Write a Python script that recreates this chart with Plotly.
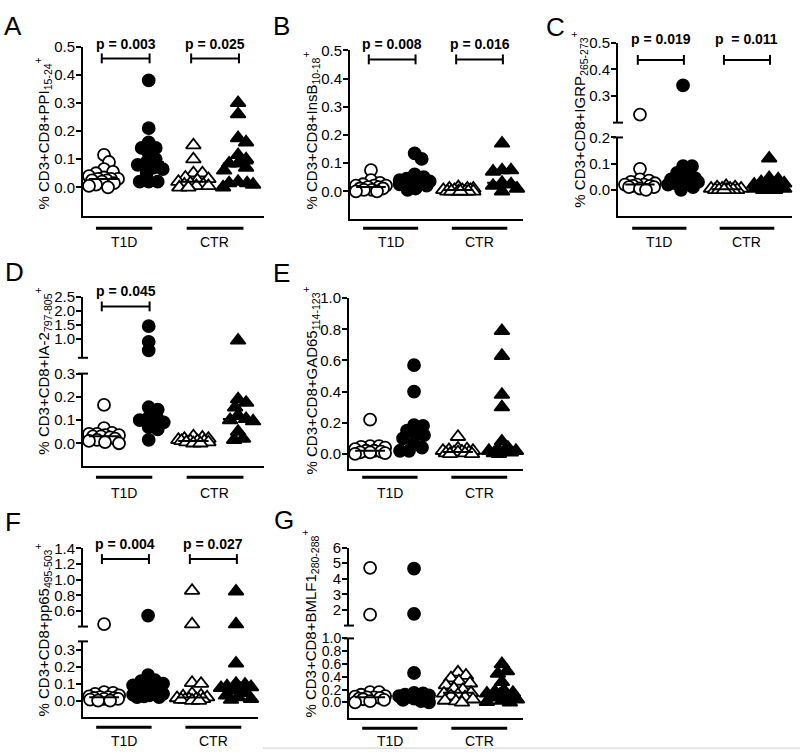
import math
import numpy as np
import plotly.graph_objects as go

W, H = 800, 755
FONT = "Liberation Sans, Arial, sans-serif"

GROUP_LABELS = ["T1D", "CTR"]

# ---------------- data (% of CD3+CD8+) -------------
# Each panel: T1D open circles, T1D filled circles, CTR open triangles, CTR filled triangles
ppi_t1d_open = [0.115, 0.09, 0.065, 0.055, 0.05, 0.04, 0.035, 0.03, 0.03, 0.03, 0.025, 0.025, 0.02, 0.015, 0.01, 0.005, 0.0]
ppi_t1d_fill = [0.38, 0.21, 0.16, 0.14, 0.14, 0.12, 0.10, 0.09, 0.08, 0.07, 0.065, 0.05, 0.02, 0.02, 0.02]
ppi_ctr_open = [0.15, 0.10, 0.05, 0.05, 0.035, 0.03, 0.025, 0.02, 0.015, 0.01, 0.01, 0.005, 0.005, 0.0, 0.0]
ppi_ctr_fill = [0.30, 0.26, 0.175, 0.16, 0.115, 0.10, 0.085, 0.085, 0.07, 0.06, 0.02, 0.015, 0.015, 0.01, 0.0]

insb_t1d_open = [0.075, 0.04, 0.03, 0.025, 0.02, 0.02, 0.02, 0.015, 0.015, 0.01, 0.01, 0.005, 0.005, 0.0, 0.0]
insb_t1d_fill = [0.135, 0.115, 0.06, 0.05, 0.045, 0.04, 0.035, 0.035, 0.03, 0.03, 0.03, 0.025, 0.02, 0.01, 0.005]
insb_ctr_open = [0.015, 0.01, 0.01, 0.01, 0.005, 0.005, 0.005, 0.005, 0.0, 0.0, 0.0, 0.0, 0.0, 0.0, 0.0]
insb_ctr_fill = [0.17, 0.075, 0.075, 0.07, 0.03, 0.025, 0.02, 0.01, 0.0]

igrp_t1d_open = [0.23, 0.08, 0.04, 0.035, 0.03, 0.025, 0.02, 0.02, 0.02, 0.015, 0.015, 0.01, 0.01, 0.005, 0.0]
igrp_t1d_fill = [0.34, 0.09, 0.09, 0.065, 0.055, 0.045, 0.04, 0.04, 0.035, 0.03, 0.03, 0.025, 0.02, 0.01, 0.0]
igrp_ctr_open = [0.015, 0.01, 0.01, 0.005, 0.005, 0.005, 0.005, 0.0, 0.0, 0.0, 0.0, 0.0, 0.0, 0.0]
igrp_ctr_fill = [0.12, 0.045, 0.04, 0.03, 0.025, 0.02, 0.015, 0.015, 0.01, 0.01, 0.005, 0.005, 0.0, 0.0, 0.0]

ia2_t1d_open = [0.165, 0.065, 0.045, 0.04, 0.04, 0.035, 0.035, 0.03, 0.03, 0.025, 0.02, 0.015, 0.01, 0.005, 0.0]
ia2_t1d_fill = [1.45, 0.88, 0.57, 0.155, 0.145, 0.11, 0.105, 0.10, 0.09, 0.07, 0.06, 0.015]
ia2_ctr_open = [0.03, 0.025, 0.02, 0.02, 0.015, 0.01, 0.01, 0.01, 0.01, 0.005, 0.005, 0.0, 0.0]
ia2_ctr_fill = [0.93, 0.19, 0.175, 0.155, 0.12, 0.105, 0.10, 0.095, 0.05, 0.02, 0.015]

gad_t1d_open = [0.22, 0.05, 0.05, 0.045, 0.04, 0.03, 0.02, 0.02, 0.015, 0.01, 0.01, 0.005, 0.0]
gad_t1d_fill = [0.57, 0.40, 0.185, 0.18, 0.15, 0.13, 0.12, 0.10, 0.065, 0.04, 0.02, 0.02]
gad_ctr_open = [0.11, 0.035, 0.03, 0.025, 0.02, 0.02, 0.015, 0.01, 0.01, 0.01, 0.005, 0.005, 0.0, 0.0]
gad_ctr_fill = [0.79, 0.63, 0.38, 0.30, 0.08, 0.04, 0.03, 0.02, 0.02, 0.015, 0.01, 0.005, 0.0]

pp65_t1d_open = [0.43, 0.05, 0.045, 0.04, 0.03, 0.025, 0.02, 0.02, 0.015, 0.015, 0.01, 0.01, 0.005, 0.0, 0.0]
pp65_t1d_fill = [0.54, 0.15, 0.12, 0.115, 0.10, 0.09, 0.07, 0.045, 0.045, 0.04, 0.035, 0.03, 0.025, 0.02, 0.02]
pp65_ctr_open = [0.86, 0.43, 0.105, 0.10, 0.04, 0.03, 0.025, 0.02, 0.015, 0.01, 0.01, 0.01, 0.005, 0.005, 0.0, 0.0]
pp65_ctr_fill = [0.85, 0.43, 0.22, 0.10, 0.095, 0.085, 0.08, 0.075, 0.07, 0.06, 0.045, 0.03, 0.02, 0.01, 0.005]

bmlf_t1d_open = [4.7, 1.7, 0.16, 0.16, 0.12, 0.10, 0.09, 0.08, 0.08, 0.07, 0.06, 0.05, 0.04, 0.02, 0.0]
bmlf_t1d_fill = [4.65, 1.75, 0.46, 0.15, 0.14, 0.12, 0.11, 0.10, 0.10, 0.09, 0.08, 0.06, 0.04, 0.02, 0.0]
bmlf_ctr_open = [0.47, 0.42, 0.38, 0.33, 0.30, 0.27, 0.22, 0.20, 0.15, 0.14, 0.12, 0.10, 0.08, 0.05, 0.03, 0.02, 0.0]
bmlf_ctr_fill = [0.60, 0.49, 0.45, 0.32, 0.19, 0.17, 0.15, 0.14, 0.12, 0.10, 0.08, 0.05, 0.03, 0.01, 0.0]

# ---------------- panel layout (pixel geometry) ----------------
def seg(lo, hi, bot, top, ticks, fmt="{:.1f}", fs=15):
    return dict(lo=lo, hi=hi, bot=bot, top=top, ticks=ticks, fmt=fmt, fs=fs)

panels = [
    dict(letter="A", lpos=(13, 17), xl=83, xr=264, xr_range=[0.53, 4.58],
         title="% CD3+CD8+PPI<sub>15-24</sub><sup>+</sup>", tpos=(43, 126),
         segs=[seg(-0.1, 0.5, 209, 38, [0, 0.1, 0.2, 0.3, 0.4, 0.5])],
         data=[ppi_t1d_open, ppi_t1d_fill, ppi_ctr_open, ppi_ctr_fill],
         pvals=[(1, 2, "p = 0.003"), (3, 4, "p = 0.025")], bry=50, pty=35,
         uly=222, laby=236),
    dict(letter="B", lpos=(281, 17), xl=350, xr=523, xr_range=[0.52, 4.48],
         title="% CD3+CD8+InsB<sub>10-18</sub><sup>+</sup>", tpos=(311, 123),
         segs=[seg(-0.1, 0.5, 213, 42, [0, 0.1, 0.2, 0.3, 0.4, 0.5])],
         data=[insb_t1d_open, insb_t1d_fill, insb_ctr_open, insb_ctr_fill],
         pvals=[(1, 2, "p = 0.008"), (3, 4, "p = 0.016")], bry=51, pty=35,
         uly=222, laby=236),
    dict(letter="C", lpos=(555, 18), xl=618, xr=792, xr_range=[0.49, 4.53],
         title="% CD3+CD8+IGRP<sub>265-273</sub><sup>+</sup>", tpos=(579, 112),
         segs=[seg(-0.1, 0.2, 209.5, 130, [0, 0.1, 0.2]),
               seg(0.2, 0.5, 115, 34, [0.3, 0.4, 0.5])],
         data=[igrp_t1d_open, igrp_t1d_fill, igrp_ctr_open, igrp_ctr_fill],
         pvals=[(1, 2, "p = 0.019"), (3, 4, "p  = 0.011")], bry=51.5, pty=30,
         uly=222, laby=236),
    dict(letter="D", lpos=(14, 266), xl=83, xr=264, xr_range=[0.53, 4.58],
         title="% CD3+CD8+IA-2<sub>797-805</sub><sup>+</sup>", tpos=(43, 367),
         segs=[seg(-0.1, 0.3, 463, 369, [0, 0.1, 0.2, 0.3]),
               seg(0.3, 2.5, 353, 291.7, [1.0, 1.5, 2.0, 2.5])],
         data=[ia2_t1d_open, ia2_t1d_fill, ia2_ctr_open, ia2_ctr_fill],
         pvals=[(1, 2, "p = 0.045")], bry=301, pty=285,
         uly=474, laby=490),
    dict(letter="E", lpos=(281, 267), xl=349, xr=523, xr_range=[0.52, 4.48],
         title="% CD3+CD8+GAD65<sub>114-123</sub><sup>+</sup>", tpos=(311, 376),
         segs=[seg(-0.1, 1.0, 466, 292.7, [0, 0.2, 0.4, 0.6, 0.8, 1.0])],
         data=[gad_t1d_open, gad_t1d_fill, gad_ctr_open, gad_ctr_fill],
         pvals=[], bry=0, pty=0, uly=474, laby=490),
    dict(letter="F", lpos=(13, 519), xl=83, xr=258, xr_range=[0.52, 4.5],
         title="% CD3+CD8+pp65<sub>495-503</sub><sup>+</sup>", tpos=(43, 629),
         segs=[seg(-0.1, 0.35, 717, 640, [0, 0.1, 0.2, 0.3]),
               seg(0.4, 1.4, 625, 546, [0.6, 0.8, 1.0, 1.2, 1.4])],
         data=[pp65_t1d_open, pp65_t1d_fill, pp65_ctr_open, pp65_ctr_fill],
         pvals=[(1, 2, "p = 0.004"), (3, 4, "p = 0.027")], bry=556.7, pty=541.7,
         uly=727, laby=741),
    dict(letter="G", lpos=(284, 517), xl=349, xr=523, xr_range=[0.52, 4.48],
         title="% CD3+CD8+BMLF1<sub>280-288</sub><sup>+</sup>", tpos=(310, 622),
         segs=[seg(-0.25, 1.0, 718, 637, [0, 0.2, 0.4, 0.6, 0.8, 1.0], fs=14),
               seg(1, 6, 624, 545, [2, 3, 4, 5, 6], "{:d}")],
         data=[bmlf_t1d_open, bmlf_t1d_fill, bmlf_ctr_open, bmlf_ctr_fill],
         pvals=[], bry=0, pty=0, uly=728, laby=741),
]

STYLES = [
    dict(symbol="circle", color="white", size=12),
    dict(symbol="circle", color="black", size=12),
    dict(symbol="triangle-up", color="white", size=13),
    dict(symbol="triangle-up", color="black", size=13),
]


def xp(px):
    return px / W


def yp(px):
    return 1 - px / H


def swarm(ys, d=8.5, maxw=15):
    n = len(ys)
    offs = [0.0] * n
    placed = []
    order = sorted(range(n), key=lambda i: ys[i])
    cands = [0]
    for k in range(1, maxw + 1):
        cands += [k, -k]
    for i in order:
        best, fb, fbd = None, 0, -1
        for s in cands:
            md = min((math.hypot(s - px, ys[i] - py) for px, py in placed), default=1e9)
            if md >= d:
                best = s
                break
            if md > fbd:
                fbd, fb = md, s
        offs[i] = best if best is not None else fb
        placed.append((offs[i], ys[i]))
    return offs


fig = go.Figure()
layout = dict(width=W, height=H, margin=dict(l=0, r=0, t=0, b=0),
              paper_bgcolor="white", plot_bgcolor="white", showlegend=False,
              font=dict(family=FONT, color="black"))
annotations = []
shapes = []

ycount = 0
for k, p in enumerate(panels, start=1):
    xname = "xaxis" if k == 1 else f"xaxis{k}"
    xref = "x" if k == 1 else f"x{k}"
    yrefs = []
    for s in p["segs"]:
        ycount += 1
        yname = "yaxis" if ycount == 1 else f"yaxis{ycount}"
        yref = "y" if ycount == 1 else f"y{ycount}"
        yrefs.append(yref)
        layout[yname] = dict(
            domain=[yp(s["bot"]), yp(s["top"])], range=[s["lo"], s["hi"]],
            anchor=xref, showline=True, linewidth=2, linecolor="black",
            ticks="outside", ticklen=5, tickwidth=2, tickcolor="black",
            ticklabelstandoff=-2,
            tickvals=s["ticks"], ticktext=[s["fmt"].format(t) for t in s["ticks"]],
            tickfont=dict(size=s["fs"], family=FONT, color="black"),
            showgrid=False, zeroline=False, fixedrange=True)
    layout[xname] = dict(
        domain=[xp(p["xl"]), xp(p["xr"])], range=p["xr_range"], anchor=yrefs[0],
        showline=True, linewidth=2, linecolor="black", ticks="",
        showticklabels=False, showgrid=False, zeroline=False, fixedrange=True)

    pxu = (p["xr"] - p["xl"]) / (p["xr_range"][1] - p["xr_range"][0])
    segs = p["segs"]

    def seg_of(v):
        if len(segs) > 1 and v > segs[0]["hi"]:
            return 1
        return 0

    def to_px(v):
        s = segs[seg_of(v)]
        return s["bot"] - (v - s["lo"]) / (s["hi"] - s["lo"]) * (s["bot"] - s["top"])

    for g, vals in enumerate(p["data"]):
        cat = g + 1
        ypx = [to_px(v) for v in vals]
        offs = swarm(ypx)
        st = STYLES[g]
        for si in range(len(segs)):
            xs = [cat + o / pxu for v, o in zip(vals, offs) if seg_of(v) == si]
            ys = [v for v in vals if seg_of(v) == si]
            if not xs:
                continue
            fig.add_trace(go.Scatter(
                x=xs, y=ys, xaxis=xref, yaxis=yrefs[si], mode="markers",
                cliponaxis=False,
                marker=dict(symbol=st["symbol"], size=st["size"], color=st["color"],
                            line=dict(color="black", width=1.8)),
                hoverinfo="skip"))
        med = float(np.median(vals))
        fig.add_trace(go.Scatter(
            x=[cat - 0.34, cat + 0.34], y=[med, med], xaxis=xref,
            yaxis=yrefs[seg_of(med)], mode="lines", cliponaxis=False,
            line=dict(color="black", width=2), hoverinfo="skip"))

    # break marks for split axes
    if len(segs) > 1:
        for ypx in (segs[0]["top"], segs[1]["bot"]):
            shapes.append(dict(type="line", xref="paper", yref="paper",
                               x0=xp(p["xl"] - 5), x1=xp(p["xl"] + 5),
                               y0=yp(ypx), y1=yp(ypx),
                               line=dict(color="black", width=2)))

    # significance brackets
    for a, b, txt in p["pvals"]:
        x0, x1 = a - 0.05, b + 0.02
        shapes.append(dict(type="line", xref=xref, yref="paper", x0=x0, x1=x1,
                           y0=yp(p["bry"]), y1=yp(p["bry"]), line=dict(color="black", width=2)))
        for xx in (x0, x1):
            shapes.append(dict(type="line", xref=xref, yref="paper", x0=xx, x1=xx,
                               y0=yp(p["bry"] - 5), y1=yp(p["bry"] + 5),
                               line=dict(color="black", width=2)))
        annotations.append(dict(text="<b>%s</b>" % txt, x=(x0 + x1) / 2, xref=xref,
                                y=yp(p["pty"]), yref="paper", showarrow=False,
                                xanchor="center", yanchor="middle",
                                font=dict(size=14, family=FONT, color="black")))

    # group underlines + labels
    for (u0, u1, lx), lab in zip([(0.82, 2.08, 1.45), (2.85, 4.12, 3.48)], GROUP_LABELS):
        shapes.append(dict(type="line", xref=xref, yref="paper", x0=u0, x1=u1,
                           y0=yp(p["uly"]), y1=yp(p["uly"]), line=dict(color="black", width=3)))
        annotations.append(dict(text=lab, x=lx, xref=xref, y=yp(p["laby"]), yref="paper",
                                showarrow=False, xanchor="center", yanchor="middle",
                                font=dict(size=14, family=FONT, color="black")))

    # y-axis title
    annotations.append(dict(text=p["title"], x=xp(p["tpos"][0]), y=yp(p["tpos"][1]),
                            xref="paper", yref="paper", textangle=-90, showarrow=False,
                            xanchor="center", yanchor="middle",
                            font=dict(size=15, family=FONT, color="black")))
    # panel letter
    annotations.append(dict(text=p["letter"], x=xp(p["lpos"][0]), y=yp(p["lpos"][1]),
                            xref="paper", yref="paper", showarrow=False,
                            xanchor="center", yanchor="middle",
                            font=dict(size=26, family=FONT, color="black")))

# faint scan border at the bottom
shapes.append(dict(type="line", xref="paper", yref="paper", x0=xp(263), x1=1,
                   y0=yp(748), y1=yp(748), line=dict(color="#cccccc", width=1)))

layout["annotations"] = annotations
layout["shapes"] = shapes
fig.update_layout(**layout)
fig.write_html("out.html", config={"displayModeBar": False},
               post_script="document.body.style.margin='0';document.body.style.overflow='hidden';")
